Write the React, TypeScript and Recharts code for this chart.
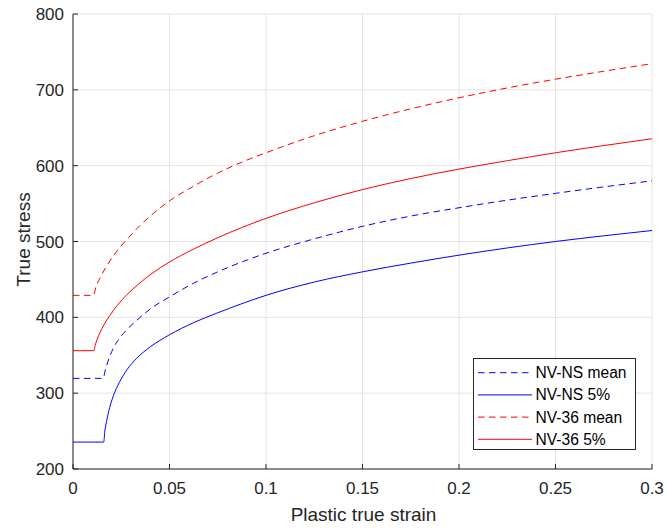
import React from 'react';
import { LineChart, Line, XAxis, YAxis, CartesianGrid, Legend, Label } from 'recharts';

// ---- data ----
const nsMeanStrain = [0, 0.0157, 0.0165, 0.0175, 0.019, 0.021, 0.024, 0.028, 0.033, 0.04, 0.05, 0.0625, 0.075, 0.0875, 0.1, 0.125, 0.15, 0.175, 0.2, 0.225, 0.25, 0.275, 0.3];
const nsMeanStress = [319.5, 319.5, 328, 337, 348, 360, 372, 384, 396, 411, 427, 445, 460, 473, 484.5, 503.5, 520, 533.5, 544.5, 554.5, 563.5, 572, 580];

const ns5Strain = [0, 0.0159, 0.0165, 0.0175, 0.019, 0.021, 0.024, 0.028, 0.033, 0.04, 0.05, 0.0625, 0.075, 0.0875, 0.1, 0.125, 0.15, 0.175, 0.2, 0.225, 0.25, 0.275, 0.3];
const ns5Stress = [235.5, 235.5, 250, 264, 281, 297, 314, 331, 346, 361, 377, 393, 406, 418, 429, 446.5, 460, 471.5, 482, 491.5, 500, 507.5, 514.5];

const n36MeanStrain = [0, 0.0105, 0.012, 0.014, 0.0175, 0.0209, 0.0244, 0.0287, 0.0347, 0.0416, 0.0508, 0.0598, 0.071, 0.085, 0.1, 0.125, 0.15, 0.175, 0.2, 0.225, 0.25, 0.275, 0.3];
const n36MeanStress = [429, 429, 441, 452, 468, 481, 492.5, 505, 521, 537, 555, 569, 585, 602, 617, 639.5, 658.5, 675, 689.5, 702.5, 714, 724.5, 734.5];

const n365Strain = [0, 0.0108, 0.0115, 0.0125, 0.014, 0.016, 0.019, 0.023, 0.028, 0.034, 0.041, 0.05, 0.0625, 0.075, 0.0875, 0.1, 0.125, 0.15, 0.175, 0.2, 0.225, 0.25, 0.275, 0.3];
const n365Stress = [356, 356, 363, 371, 380, 390, 402, 416, 430, 444, 458, 473, 490, 505, 518.5, 530.5, 551, 568.5, 583, 595.5, 606.5, 617, 626.5, 635.5];

const seriesNames = ['NV-NS mean', 'NV-NS 5%', 'NV-36 mean', 'NV-36 5%'];
const seriesColors = ['#0000ff', '#0000ff', '#ff0000', '#ff0000'];
const seriesDashed = [true, false, true, false];

const xTicks = [0, 0.05, 0.1, 0.15, 0.2, 0.25, 0.3];
const yTicks = [200, 300, 400, 500, 600, 700, 800];
const xLabel = 'Plastic true strain';
const yLabel = 'True stress';

const zip = (xs: number[], ys: number[]) => xs.map((x, i) => ({ x, y: ys[i] }));
const seriesData = [
  zip(nsMeanStrain, nsMeanStress),
  zip(ns5Strain, ns5Stress),
  zip(n36MeanStrain, n36MeanStress),
  zip(n365Strain, n365Stress),
];

const FONT = '"Liberation Sans", Arial, Helvetica, sans-serif';
const AX = '#262626';
const DASH = '6.5 4.5';

const LegendBox = () => (
  <svg width={164} height={93} style={{ display: 'block' }}>
    <rect x={0.5} y={0.5} width={162} height={91} fill="#ffffff" stroke={AX} strokeWidth={1} />
    {seriesNames.map((name, i) => {
      const cy = 14.7 + i * 22.2;
      return (
        <g key={name}>
          <line
            x1={5}
            x2={59}
            y1={cy}
            y2={cy}
            stroke={seriesColors[i]}
            strokeWidth={1}
            strokeDasharray={seriesDashed[i] ? DASH : undefined}
          />
          <text x={62.5} y={cy} dy="0.35em" fontSize={15.6} fontFamily={FONT} fill="#000">
            {name}
          </text>
        </g>
      );
    })}
  </svg>
);

export default function App() {
  return (
    <div style={{ position: 'absolute', left: 0, top: 0, width: 667, height: 528, background: '#fff' }}>
      <LineChart width={667} height={528} margin={{ top: 14, right: 15, left: 0, bottom: 0 }}>
        <CartesianGrid stroke="#e4e4e4" strokeWidth={1} />
        <XAxis
          type="number"
          dataKey="x"
          domain={[0, 0.3]}
          ticks={xTicks}
          interval={0}
          height={59}
          allowDataOverflow
          axisLine={{ stroke: AX, strokeWidth: 1 }}
          tickLine={{ stroke: AX, strokeWidth: 1 }}
          tickSize={-5}
          tickMargin={18}
          tick={{ fontSize: 17, fontFamily: FONT, fill: AX }}
          tickFormatter={(v: number) => String(v)}
        >
          <Label
            content={(props: any) => {
              const vb = props.viewBox || { x: 73, y: 469, width: 579, height: 59 };
              return (
                <text
                  x={vb.x + vb.width / 2 + 1}
                  y={vb.y + vb.height - 7.3}
                  textAnchor="middle"
                  fontSize={19}
                  fontFamily={FONT}
                  fill={AX}
                >
                  {xLabel}
                </text>
              );
            }}
          />
        </XAxis>
        <YAxis
          type="number"
          domain={[200, 800]}
          ticks={yTicks}
          interval={0}
          width={73}
          allowDataOverflow
          axisLine={{ stroke: AX, strokeWidth: 1 }}
          tickLine={{ stroke: AX, strokeWidth: 1 }}
          tickSize={-5}
          tickMargin={14}
          tick={{ fontSize: 17, fontFamily: FONT, fill: AX }}
        >
          <Label
            content={(props: any) => {
              const vb = props.viewBox || { x: 0, y: 14, width: 73, height: 455 };
              const cx = vb.x + 30;
              const cy = vb.y + vb.height / 2 - 2;
              return (
                <text
                  x={cx}
                  y={cy}
                  transform={`rotate(-90, ${cx}, ${cy})`}
                  textAnchor="middle"
                  fontSize={19}
                  fontFamily={FONT}
                  fill={AX}
                >
                  {yLabel}
                </text>
              );
            }}
          />
        </YAxis>
        {seriesData.map((d, i) => (
          <Line
            key={seriesNames[i]}
            data={d}
            dataKey="y"
            name={seriesNames[i]}
            type="monotone"
            stroke={seriesColors[i]}
            strokeWidth={1}
            strokeDasharray={seriesDashed[i] ? DASH : undefined}
            dot={false}
            activeDot={false}
            isAnimationActive={false}
          />
        ))}
        <Legend
          layout="vertical"
          align="center"
          verticalAlign="middle"
          content={() => <LegendBox />}
          wrapperStyle={{ position: 'absolute', left: 473, top: 358, width: 164, height: 93 }}
        />
      </LineChart>
    </div>
  );
}
